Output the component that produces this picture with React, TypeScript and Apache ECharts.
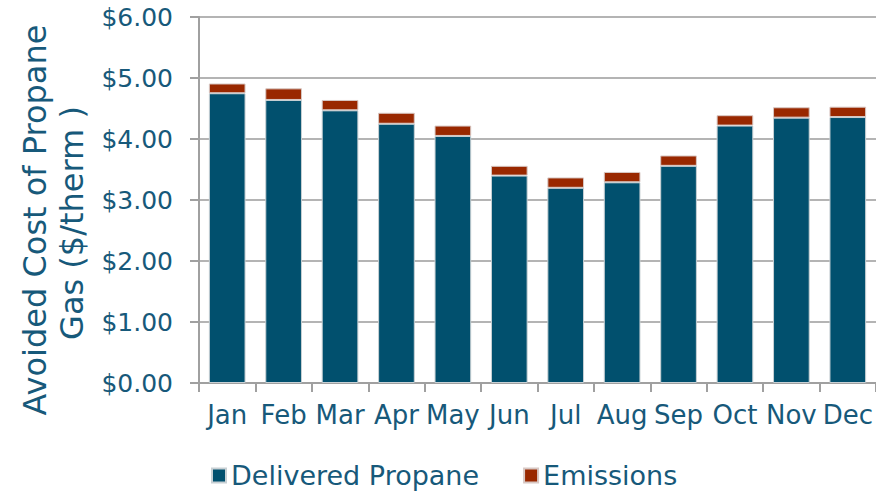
import React, { useEffect, useRef } from "react";
import * as echarts from "echarts";

const months = ["Jan", "Feb", "Mar", "Apr", "May", "Jun", "Jul", "Aug", "Sep", "Oct", "Nov", "Dec"];
const delivered = [4.75, 4.64, 4.47, 4.25, 4.05, 3.4, 3.2, 3.29, 3.56, 4.22, 4.35, 4.36];
const emissions = [0.16, 0.19, 0.17, 0.18, 0.17, 0.16, 0.17, 0.17, 0.17, 0.17, 0.17, 0.17];
const yTitleLines = ["Avoided Cost of Propane", "Gas ($/therm )"];

const TEXT = "#17597a";
const FONT = "DejaVu Sans, Verdana, sans-serif";

export default function App() {
  const ref = useRef<HTMLDivElement>(null);
  useEffect(() => {
    if (!ref.current) return;
    const chart = echarts.init(ref.current, undefined, { renderer: "svg" });
    chart.setOption({
      animation: false,
      textStyle: { fontFamily: FONT },
      grid: { left: 199, right: 0, top: 17, bottom: 109 },
      legend: {
        left: 211,
        top: 462,
        padding: 0,
        itemWidth: 14,
        itemHeight: 14,
        itemGap: 44,
        icon: "rect",
        textStyle: { fontSize: 27, color: TEXT, fontFamily: FONT },
        data: ["Delivered Propane", "Emissions"],
      },
      graphic: [
        {
          type: "text",
          x: 35,
          y: 220,
          rotation: Math.PI / 2,
          style: {
            text: yTitleLines[0],
            fontSize: 32,
            fontFamily: FONT,
            fill: TEXT,
            textAlign: "center",
            textVerticalAlign: "middle",
          },
        },
        {
          type: "text",
          x: 72,
          y: 223,
          rotation: Math.PI / 2,
          style: {
            text: yTitleLines[1],
            fontSize: 32,
            fontFamily: FONT,
            fill: TEXT,
            textAlign: "center",
            textVerticalAlign: "middle",
          },
        },
      ],
      xAxis: {
        type: "category",
        data: months,
        axisLine: { show: true, lineStyle: { color: "#a0a0a0", width: 2 } },
        axisTick: { show: true, length: 9, lineStyle: { color: "#a0a0a0", width: 2 } },
        axisLabel: { interval: 0, fontSize: 26, color: TEXT, margin: 19, fontFamily: FONT },
      },
      yAxis: {
        type: "value",
        min: 0,
        max: 6,
        interval: 1,
        axisLine: { show: true, lineStyle: { color: "#a0a0a0", width: 2 } },
        axisTick: { show: true, length: 9, lineStyle: { color: "#a0a0a0", width: 2 } },
        splitLine: { show: true, lineStyle: { color: "#b4b4b4", width: 2 } },
        axisLabel: {
          fontSize: 25,
          color: TEXT,
          margin: 26,
          fontFamily: FONT,
          formatter: (v: number) => "$" + v.toFixed(2),
        },
      },
      series: [
        {
          name: "Delivered Propane",
          type: "bar",
          stack: "total",
          data: delivered,
          barWidth: "65%",
          itemStyle: { color: "#01506e", borderColor: "#c8d0d4", borderWidth: 1 },
        },
        {
          name: "Emissions",
          type: "bar",
          stack: "total",
          data: emissions,
          barWidth: "65%",
          itemStyle: { color: "#992800", borderColor: "#d8c8c4", borderWidth: 1 },
        },
      ],
    });
    return () => chart.dispose();
  }, []);
  return (
    <div
      ref={ref}
      style={{ position: "fixed", left: 0, top: 0, width: 876, height: 492, background: "#fff" }}
    />
  );
}
